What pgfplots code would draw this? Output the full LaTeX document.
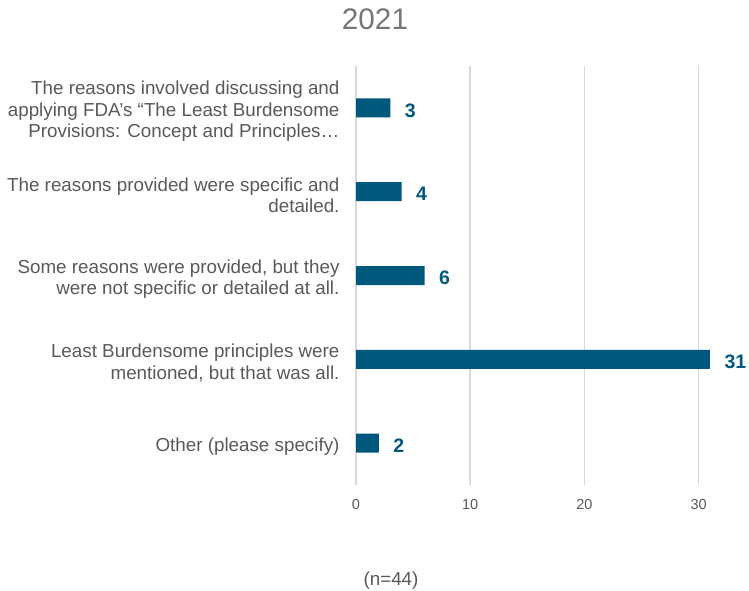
\documentclass[border=0pt]{standalone}
\usepackage{pgfplots}
\pgfplotsset{compat=1.18}
\usepackage{fontspec}
\setmainfont{Liberation Sans}
\definecolor{barc}{HTML}{00587C}
\definecolor{lblc}{HTML}{595959}
\definecolor{ttlc}{HTML}{767676}
\definecolor{gridc}{HTML}{D9D9D9}
\begin{document}
\begin{tikzpicture}[x=1pt,y=1pt]
\useasboundingbox (0,0) rectangle (749,591);
\begin{axis}[
  at={(356pt,106pt)}, anchor=south west,
  scale only axis, width=359.7pt, height=419pt,
  xmin=0, xmax=31.5, ymin=-0.5, ymax=4.5, y dir=reverse,
  /pgf/number format/assume math mode=true,
  axis line style={draw=none}, major tick length=0pt,
  xtick={0,10,20,30}, ytick={0,1,2,3,4},
  xmajorgrids, grid style={color=gridc, line width=1.5pt},
  yticklabels={{The reasons involved discussing and\\applying FDA’s “The Least Burdensome\\Provisions: Concept and Principles…},
    {The reasons provided were specific and\\detailed.},
    {Some reasons were provided, but they\\were not specific or detailed at all.},
    {Least Burdensome principles were\\mentioned, but that was all.},
    {Other (please specify)}},
  yticklabel style={align=right, font=\fontsize{18.8}{21.7}\selectfont, color=lblc, xshift=-13pt, yshift=-3.5pt},
  xticklabel style={font=\fontsize{14.5}{16}\selectfont, color=lblc, yshift=-11pt},
  clip=false]
\addplot[xbar, bar width=19pt, fill=barc, draw=none,
  nodes near coords,
  nodes near coords style={font=\fontsize{19.5}{21}\selectfont\bfseries, color=barc, xshift=11pt, yshift=-2.5pt}]
  coordinates {(3,0) (4,1) (6,2) (31,3) (2,4)};
\end{axis}
\node[ttlc, font=\fontsize{29.7}{32}\selectfont] at (375,572) {2021};
\node[lblc, font=\fontsize{18.8}{20}\selectfont] at (391,10) {(n=44)};
\end{tikzpicture}
\end{document}
